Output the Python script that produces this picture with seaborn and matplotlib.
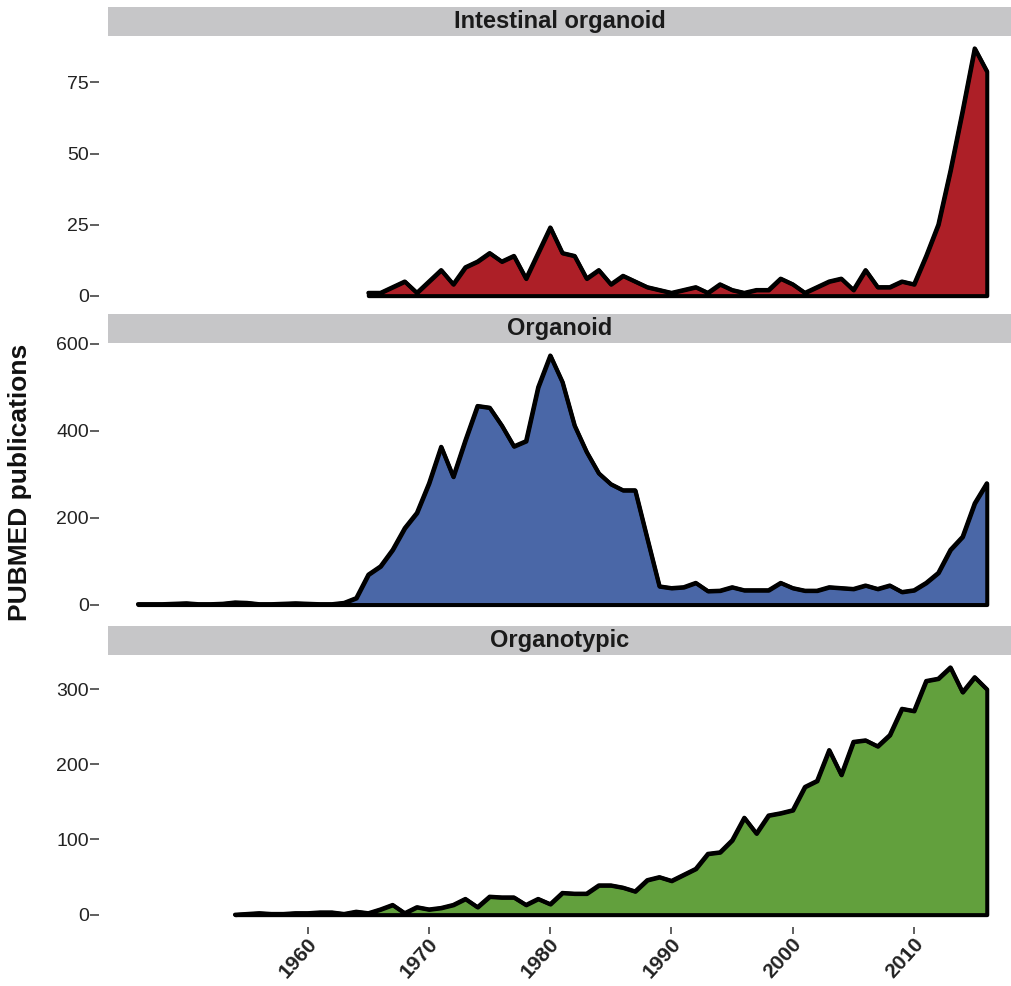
import matplotlib
matplotlib.use("Agg")
import numpy as np
import pandas as pd
import seaborn as sns
import matplotlib.pyplot as plt
from matplotlib.patches import Rectangle
from matplotlib.transforms import ScaledTranslation

# ---------------- data ----------------
intestinal_years = list(range(1965, 2017))
intestinal_counts = [1, 1, 3, 5, 1, 5, 9, 4, 10, 12, 15, 12, 14, 6, 15, 24, 15, 14, 6, 9,
                     4, 7, 5, 3, 2, 1, 2, 3, 1, 4, 2, 1, 2, 2, 6, 4, 1, 3, 5, 6,
                     2, 9, 3, 3, 5, 4, 14, 25, 44, 65, 87, 79]

organoid_years = list(range(1946, 2017))
organoid_counts = [1, 1, 1, 2, 3, 1, 1, 2, 5, 4, 1, 1, 2, 3, 2, 1, 1, 4, 15,
                   69, 88, 126, 176, 211, 279, 363, 294, 378, 457, 453, 412, 364, 376, 500,
                   573, 512, 412, 351, 302, 277, 263, 263, 152, 42, 38, 40, 50, 31, 32,
                   40, 33, 33, 33, 50, 38, 32, 32, 40, 38, 36, 44, 36, 44, 29, 33,
                   50, 73, 126, 156, 233, 279]

organotypic_years = list(range(1954, 2017))
organotypic_counts = [0, 1, 2, 1, 1, 2, 2, 3, 3, 1, 4, 2, 7, 13, 2, 10, 7, 9, 13, 21,
                      10, 24, 23, 23, 13, 21, 14, 29, 28, 28, 39, 39, 36, 31, 46, 50,
                      45, 53, 61, 81, 83, 99, 129, 108, 132, 135, 139, 170, 178, 219,
                      186, 230, 232, 224, 239, 274, 271, 311, 314, 329, 296, 316, 300]

panel_titles = ["Intestinal organoid", "Organoid", "Organotypic"]
panel_colors = ["#AD1F27", "#4A67A7", "#62A03D"]
panel_yticks = [[0, 25, 50, 75], [0, 200, 400, 600], [0, 100, 200, 300]]
x_ticks = [1960, 1970, 1980, 1990, 2000, 2010]
y_label = "PUBMED publications"

series = [
    (intestinal_years, intestinal_counts),
    (organoid_years, organoid_counts),
    (organotypic_years, organotypic_counts),
]

# ---------------- style ----------------
sns.set_theme(style="white")
plt.rcParams["font.family"] = ["Liberation Sans", "DejaVu Sans"]

W, H = 1012, 986
fig = plt.figure(figsize=(W / 100, H / 100), dpi=100)

def fx(px):
    return px / W

def fy(px):
    return 1 - px / H

left_px, right_px = 108, 1012
panels_px = [(36, 308), (343, 617), (655, 927)]
strips_px = [(7, 36), (314, 343), (626, 655)]
x_lim = (1960 - (307.7 - left_px) / 12.126, 1960 + (right_px - 307.7) / 12.126)
strip_grey = "#C6C6C8"
tick_col = "#444444"

for i, ((yrs, cnts), title, col, yt) in enumerate(zip(series, panel_titles, panel_colors, panel_yticks)):
    top, bot = panels_px[i]
    ax = fig.add_axes([fx(left_px), fy(bot), fx(right_px) - fx(left_px), (bot - top) / H])
    df = pd.DataFrame({"year": yrs, "count": cnts})
    ax.fill_between(df["year"], df["count"], 0, facecolor=col, edgecolor="black",
                    linewidth=2.9, joinstyle="round", zorder=2)
    sns.lineplot(data=df, x="year", y="count", ax=ax, color="black", linewidth=2.9,
                 solid_joinstyle="round", solid_capstyle="round", zorder=3)
    ymax = max(cnts)
    ax.set_ylim(-0.05 * ymax, 1.05 * ymax)
    ax.set_xlim(*x_lim)
    ax.set_yticks(yt)
    ax.set_yticklabels([str(v) for v in yt])
    ax.set_xlabel("")
    ax.set_ylabel("")
    for s in ax.spines.values():
        s.set_visible(False)
    ax.spines["left"].set_position(("outward", 6.5))
    ax.tick_params(axis="y", which="both", left=True, length=6.2, width=1.2, color=tick_col,
                   labelsize=14, labelcolor="#222222", pad=1)
    ax.set_facecolor("white")
    ax.patch.set_alpha(0)
    if i < 2:
        ax.tick_params(axis="x", bottom=False, labelbottom=False)
    else:
        ax.set_xticks(x_ticks)
        ax.set_xticklabels([str(v) for v in x_ticks], rotation=48, ha="right",
                           fontweight="bold", fontsize=15, color="#222222")
        ax.tick_params(axis="x", bottom=True, length=5, width=1.2, color=tick_col, pad=0)
        off = ScaledTranslation(13 / 100, 0, fig.dpi_scale_trans)
        for lab in ax.get_xticklabels():
            lab.set_transform(lab.get_transform() + off)

    st, sb = strips_px[i]
    fig.patches.append(Rectangle((fx(left_px), fy(sb)), fx(right_px) - fx(left_px), (sb - st) / H,
                                 transform=fig.transFigure, facecolor=strip_grey,
                                 edgecolor="none", zorder=0))
    fig.text((fx(left_px) + fx(right_px)) / 2, fy((st + sb) / 2), title, ha="center", va="center",
             fontsize=17, fontweight="bold", color="#1a1a1a")

fig.text(fx(20), fy(482), y_label, rotation=90, ha="center", va="center",
         fontsize=19, fontweight="bold", color="#111111")

fig.savefig("out.png", dpi=100, facecolor="white")
